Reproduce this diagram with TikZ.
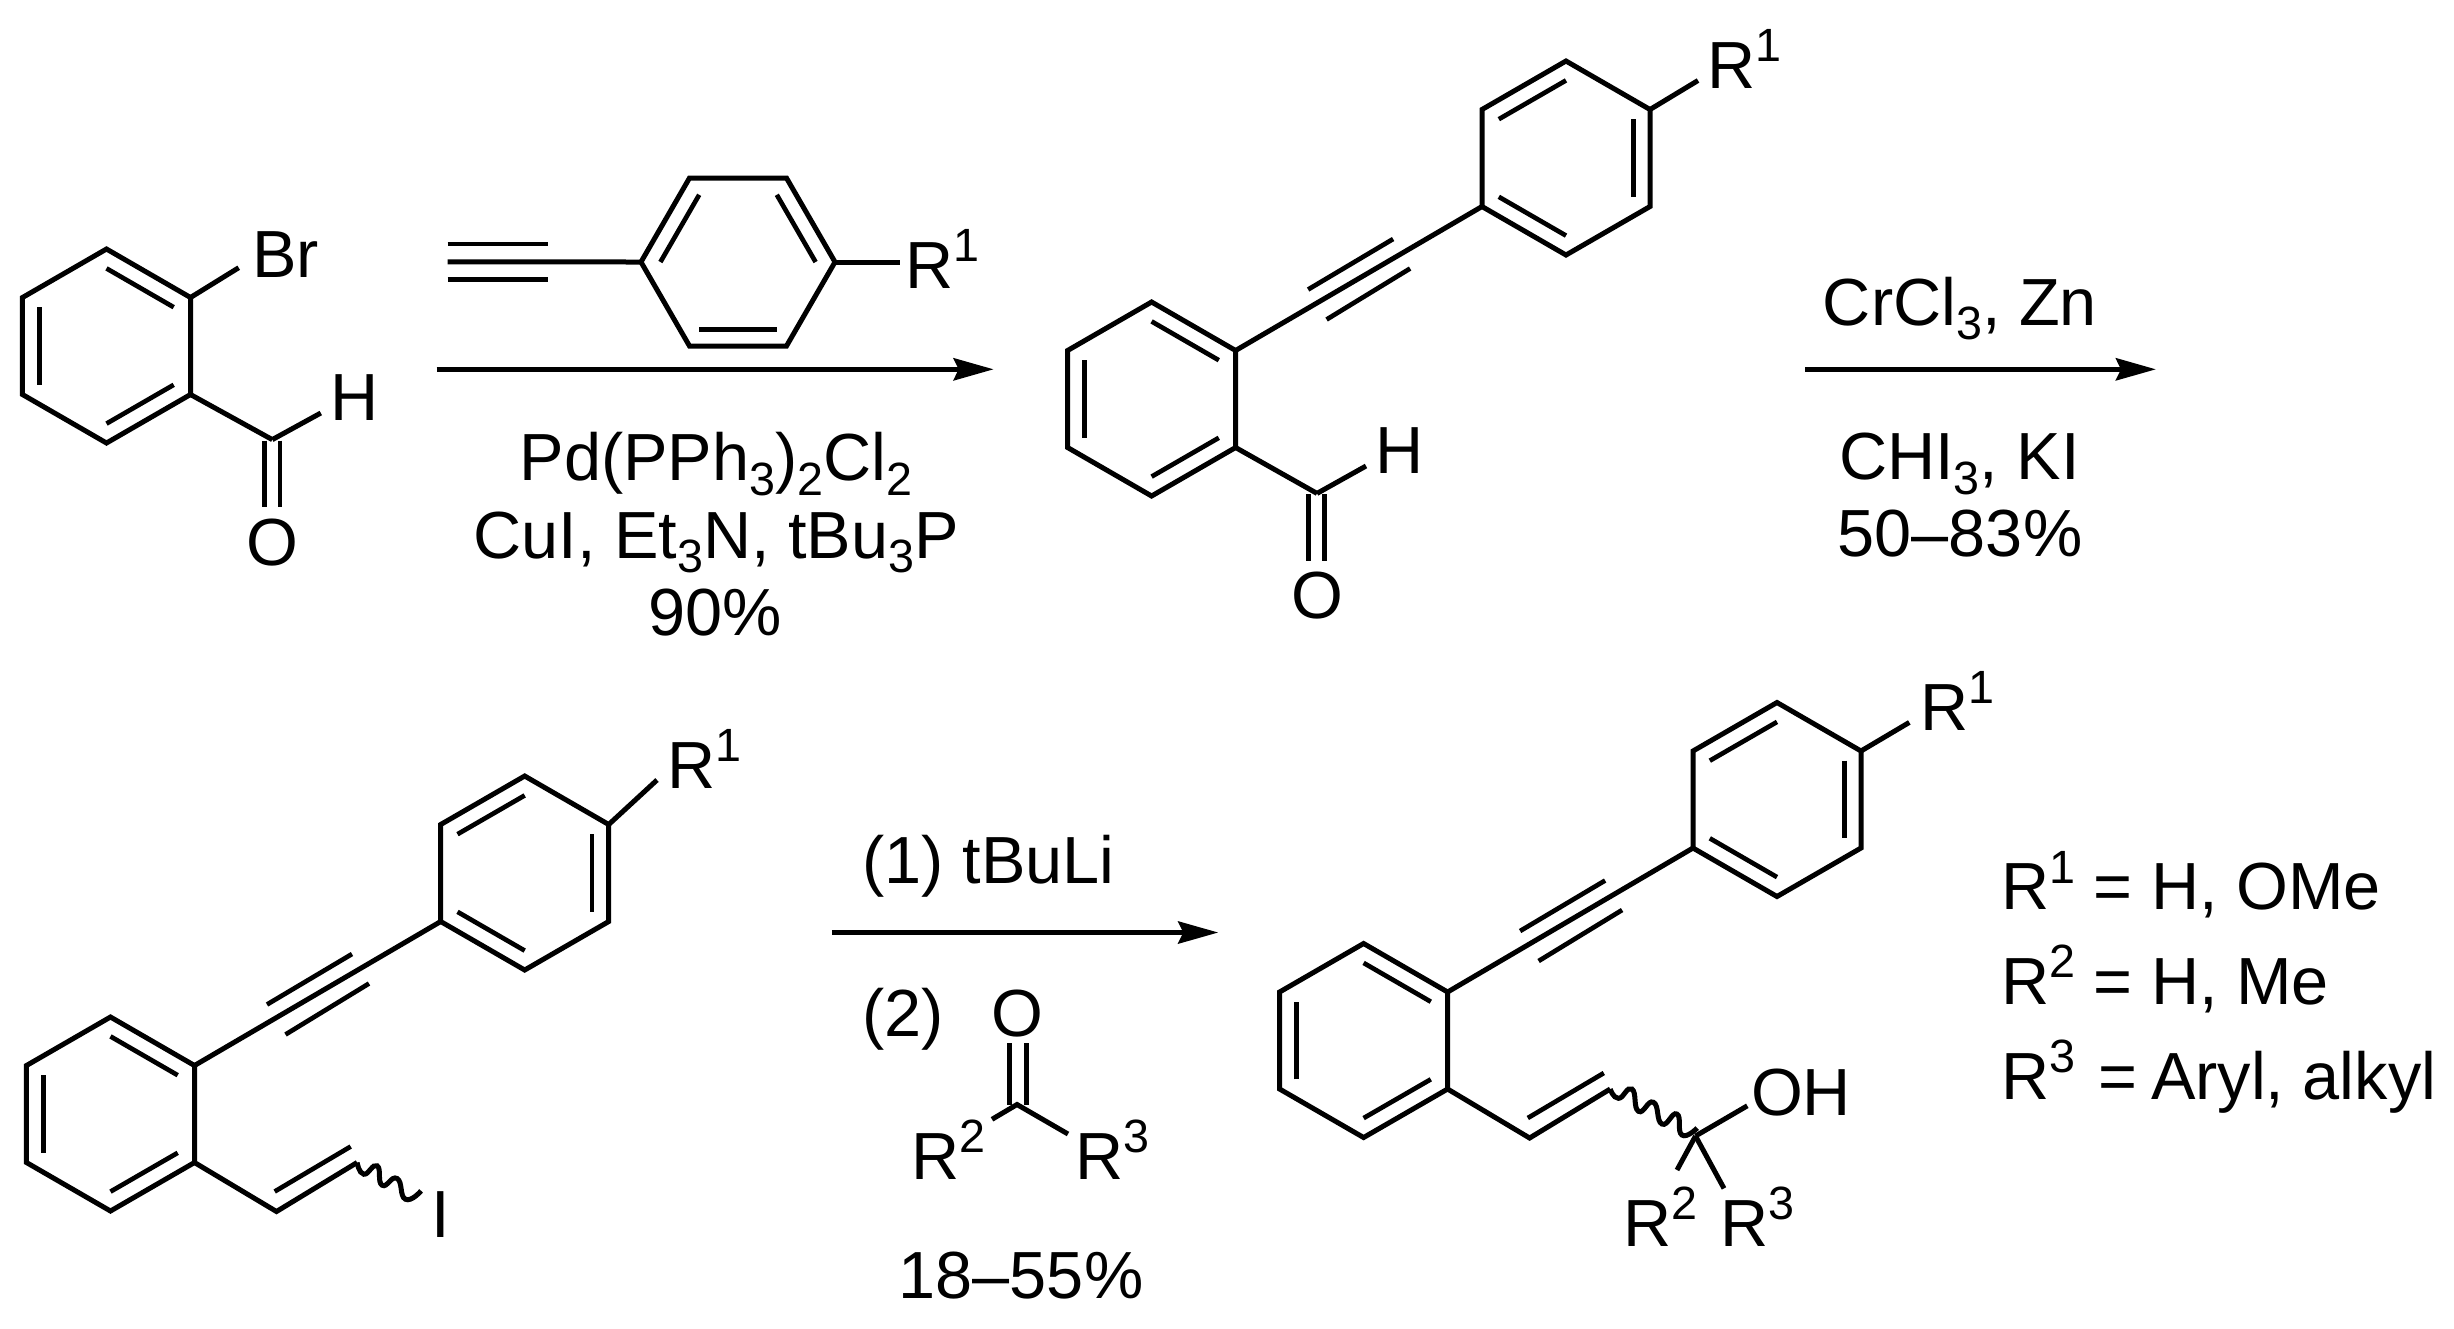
\documentclass[tikz,border=0pt]{standalone}
\usepackage{fontspec}
\setmainfont{Liberation Sans}
\usetikzlibrary{calc,arrows.meta}
\newcommand\Rsup[1]{\raisebox{8pt}{\fontsize{14}{15}\selectfont #1}}
\newcommand\Rsub[1]{\raisebox{-4.4pt}{\fontsize{14}{15}\selectfont #1}}
\tikzset{
  bond/.style={line width=1.5pt},
  inbond/.style={line width=1.4pt},
  txt/.style={inner sep=0pt,outer sep=0pt,anchor=base,font=\fontsize{20}{21}\selectfont,text=black},
  txtl/.style={txt,anchor=base west},
  rxnarrow/.style={line width=1.6pt,-{Stealth[length=12pt,width=6.6pt,inset=1.5pt]}},
  wavy/.style={line width=1.5pt}
}
\newcommand\ringat[5]{%
  \coordinate (#1) at (#2,#3);
  \foreach \k in {0,...,5}{\coordinate (#1-\k) at ($(#1)+({#4+60*\k}:97)$);}
  \draw[bond] (#1-0)--(#1-1)--(#1-2)--(#1-3)--(#1-4)--(#1-5)--cycle;
  \foreach \k in {#5}{%
    \pgfmathtruncatemacro\nxt{mod(\k+1,6)}
    \draw[inbond] ($(#1)!0.8!(#1-\k)$) -- ($(#1)!0.8!(#1-\nxt)$);
  }%
}
\newcommand\alkyne[2]{%
  \draw[bond] (#1) -- (#2);
  \draw[inbond] ([shift={(72.5,-61)}]#1) -- ([shift={(157.5,-111.5)}]#1);
  \draw[inbond] ([shift={(91,-31)}]#1) -- ([shift={(174.5,-82)}]#1);
}
\newcommand\vinyl[2]{% #1 ring vertex, #2 name prefix
  \coordinate (#2a) at ([shift={(82,49)}]#1);
  \coordinate (#2b) at ([shift={(162.6,0)}]#1);
  \draw[bond] (#1) -- (#2a) -- (#2b);
  \draw[inbond] ([shift={(80.2,29)}]#1) -- ([shift={(156.2,-16)}]#1);
}
\begin{document}
\begin{tikzpicture}[x=0.3pt,y=-0.3pt]
\path[fill=white] (0,0) rectangle (2454,1328);
\useasboundingbox (0,0) rectangle (2454,1328);

% --- 2-bromobenzaldehyde
\ringat{a}{106.5}{346}{30}{0,2,4}
\node[txt] (aBr) at (285.5,277) {Br};
\coordinate (aBrEnd) at (238.7,267.7);
\draw[bond] (a-5) -- (aBrEnd);
\coordinate (aC) at (272.3,439.6);
\draw[bond] (a-0) -- (aC);
\node[txt] (aH) at (354.6,420) {H};
\coordinate (aHEnd) at (320.8,413);
\draw[bond] (aC) -- (aHEnd);
\node[txt] (aO) at (272,565.4) {O};
\draw[inbond] (264.5,440.5) -- (264.5,507.4);
\draw[inbond] (280,440.5) -- (280,507.4);

% --- reagent above arrow 1
\ringat{b}{738}{262}{0}{1,3,5}
\coordinate (bT) at (447.6,261.8);
\draw[bond] (bT) -- (b-3);
\draw[inbond] (447.6,244) -- (547.7,244);
\draw[inbond] (447.6,279.5) -- (547.7,279.5);
\coordinate (bREnd) at (900,262);
\draw[bond] (b-0) -- (bREnd);
\node[txtl] (bR) at (905,288) {R\Rsup{1}};

% --- arrow 1
\coordinate (ar1s) at (436.6,369.3);
\coordinate (ar1e) at (993.7,369.3);
\draw[rxnarrow] (ar1s) -- (ar1e);
\node[txt] (l1a) at (716,480.7) {Pd(PPh\Rsub{3})\Rsub{2}Cl\Rsub{2}};
\node[txt] (l1b) at (716,558) {CuI, Et\Rsub{3}N, tBu\Rsub{3}P};
\node[txt] (l1c) at (715,635) {90\%};

% --- product 1
\ringat{c}{1151.6}{399}{30}{0,2,4}
\ringat{d}{1566}{158}{30}{1,3,5}
\alkyne{c-5}{d-2}
\coordinate (dREnd) at (1698,80.5);
\draw[bond] (d-5) -- (dREnd);
\node[txtl] (dR) at (1707,88) {R\Rsup{1}};
\coordinate (cC) at (1317,493.4);
\draw[bond] (c-0) -- (cC);
\coordinate (cHEnd) at (1366,466);
\draw[bond] (cC) -- (cHEnd);
\node[txt] (cH) at (1400,473.5) {H};
\node[txt] (cO) at (1317,618) {O};
\draw[inbond] (1308.4,494) -- (1308.4,561);
\draw[inbond] (1324.8,494) -- (1324.8,561);

% --- arrow 2
\coordinate (ar2s) at (1805,369.3);
\coordinate (ar2e) at (2156,369.3);
\draw[rxnarrow] (ar2s) -- (ar2e);
\node[txt] (l2a) at (1960,325) {CrCl\Rsub{3}, Zn};
\node[txt] (l2b) at (1959.5,479.5) {CHI\Rsub{3}, KI};
\node[txt] (l2c) at (1960,556) {50--83\%};

% --- vinyl iodide
\ringat{e}{110.5}{1114}{30}{0,2,4}
\ringat{f}{524.7}{873}{30}{1,3,5}
\alkyne{e-5}{f-2}
\coordinate (fREnd) at (657,780);
\draw[bond] (f-5) -- (fREnd);
\node[txtl] (fR) at (667,788) {R\Rsup{1}};
\vinyl{e-0}{e}
\draw[wavy,shift={(eb)}] plot[smooth,tension=0.9] coordinates {(0,0) (6.7,11.7) (20,3.3) (25,22.7) (40,16) (48.3,36.7) (64,28.3)};
\node[txt] (eI) at (441,1237) {I};

% --- arrow 3
\coordinate (ar3s) at (831.8,932.5);
\coordinate (ar3e) at (1218.3,932.5);
\draw[rxnarrow] (ar3s) -- (ar3e);
\node[txt] (l3a) at (988.6,883) {(1) tBuLi};
\node[txt] (l3b) at (903,1036.7) {(2)};
\node[txt] (kO) at (1017,1036) {O};
\coordinate (kC) at (1017,1104.5);
\draw[inbond] (1009.4,1043) -- (1009.4,1104.5);
\draw[inbond] (1026.6,1043) -- (1026.6,1104.5);
\coordinate (kR2) at (992,1119.3);
\coordinate (kR3) at (1068,1134);
\draw[bond] (kR2) -- (kC) -- (kR3);
\node[txtl] (kL2) at (911,1179.5) {R\Rsup{2}};
\node[txtl] (kL3) at (1075,1179.5) {R\Rsup{3}};
\node[txt] (l3c) at (1021,1298) {18--55\%};

% --- final product
\ringat{g}{1363.6}{1040.5}{30}{0,2,4}
\ringat{h}{1777}{799.5}{30}{1,3,5}
\alkyne{g-5}{h-2}
\coordinate (hREnd) at (1909.3,722.4);
\draw[bond] (h-5) -- (hREnd);
\node[txtl] (hR) at (1920,730.5) {R\Rsup{1}};
\vinyl{g-0}{g}
\draw[wavy,shift={(gb)}] plot[smooth,tension=0.9] coordinates {(0,0) (8.3,9.3) (21.7,0) (28.3,22.3) (43.3,13.3) (51.7,35) (66.7,25) (71.7,46) (87,39)};
\coordinate (gQ) at (1695.5,1136);
\coordinate (gOH) at (1747.3,1105.8);
\coordinate (gR2) at (1677,1170);
\coordinate (gR3) at (1724,1188.4);
\draw[bond] (gQ) -- (gOH);
\draw[bond] (gQ) -- (gR2);
\draw[bond] (gQ) -- (gR3);
\node[txt] (gOHl) at (1801,1115) {OH};
\node[txtl] (gL2) at (1623,1246.4) {R\Rsup{2}};
\node[txtl] (gL3) at (1720.5,1246.4) {R\Rsup{3}};

% --- legend
\node[txtl] (leg1) at (2001,909.7) {R\Rsup{1} = H, OMe};
\node[txtl] (leg2) at (2001,1004) {R\Rsup{2} = H, Me};
\node[txtl] (leg3) at (2001,1099.4) {R\Rsup{3}\kern1.5pt{} =\kern-1.5pt{} Aryl, alkyl};
\end{tikzpicture}
\end{document}
